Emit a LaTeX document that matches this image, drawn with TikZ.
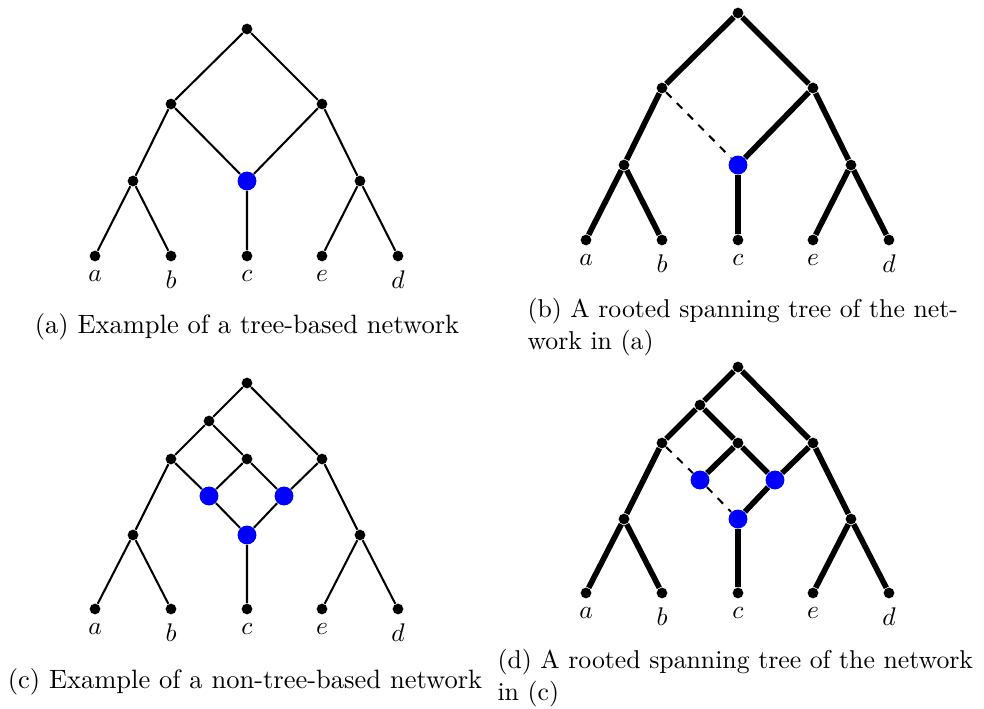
\documentclass[tikz,border=0pt]{standalone}
\usetikzlibrary{positioning}
\tikzset{
  vtx/.style={circle,fill=black,inner sep=0pt,minimum size=4.2pt},
  hyb/.style={circle,fill=blue,inner sep=0pt,minimum size=7.4pt},
  leaf/.style={vtx,label={[label distance=0pt]below:$#1$}},
  edg/.style={line width=0.8pt},
  tedg/.style={line width=2.2pt},
  cut/.style={dashed,line width=0.8pt},
  capt/.style={inner sep=0pt,align=left},
  rcapt/.style={capt,anchor=west,font=\fontsize{10.1}{12.2}\selectfont}
}

\begin{document}
\begin{tikzpicture}[x=0.01378cm,y=-0.01378cm,font=\fontsize{10.4}{12.2}\selectfont]
  \useasboundingbox (0,0) rectangle (984,709);

  % (a) tree-based network
  \node[vtx] (ar) at (247,29) {};
  \node[vtx] (au) at (171,104) {};
  \node[vtx] (av) at (322,104) {};
  \node[vtx] (aw) at (133,181) {};
  \node[hyb] (ah) at (247,181) {};
  \node[vtx] (ax) at (360,181) {};
  \node[leaf=a] (aa) at (95,256) {};
  \node[leaf=b] (ab) at (171,256) {};
  \node[leaf=c] (ac) at (247,256) {};
  \node[leaf=e] (ae) at (322,256) {};
  \node[leaf=d] (ad) at (398,256) {};
  \draw[edg] (ar)--(au) (ar)--(av);
  \draw[edg] (au)--(aw) (au)--(ah) (av)--(ah) (av)--(ax);
  \draw[edg] (aw)--(aa) (aw)--(ab) (ah)--(ac) (ax)--(ae) (ax)--(ad);
  \node[capt] (capa) at (247,327) {(a) Example of a tree-based network};

  % (b) spanning tree of (a)
  \begin{scope}[shift={(491,-16)}]
    \node[vtx] (br) at (247,29) {};
    \node[vtx] (bu) at (171,104) {};
    \node[vtx] (bv) at (322,104) {};
    \node[vtx] (bw) at (133,181) {};
    \node[hyb] (bh) at (247,181) {};
    \node[vtx] (bx) at (360,181) {};
    \node[leaf=a] (ba) at (95,256) {};
    \node[leaf=b] (bb) at (171,256) {};
    \node[leaf=c] (bc) at (247,256) {};
    \node[leaf=e] (be) at (322,256) {};
    \node[leaf=d] (bd) at (398,256) {};
  \end{scope}
  \draw[tedg] (br)--(bu) (br)--(bv);
  \draw[tedg] (bu)--(bw) (bv)--(bh) (bv)--(bx);
  \draw[cut] (bu)--(bh);
  \draw[tedg] (bw)--(ba) (bw)--(bb) (bh)--(bc) (bx)--(be) (bx)--(bd);
  \node[rcapt] (capb) at (527,327) {(b) A rooted spanning tree of the net-\\work in (a)};

  % (c) non-tree-based network
  \node[vtx] (cr) at (247,383) {};
  \node[vtx] (cu) at (209,421) {};
  \node[vtx] (cl) at (171,459) {};
  \node[vtx] (cm) at (247,459) {};
  \node[vtx] (cv) at (322,459) {};
  \node[hyb] (ch1) at (209,496) {};
  \node[hyb] (ch2) at (284,496) {};
  \node[hyb] (ch3) at (247,535) {};
  \node[vtx] (cw) at (133,535) {};
  \node[vtx] (cx) at (360,535) {};
  \node[leaf=a] (ca) at (95,609) {};
  \node[leaf=b] (cb) at (171,609) {};
  \node[leaf=c] (cc) at (247,609) {};
  \node[leaf=e] (ce) at (322,609) {};
  \node[leaf=d] (cd) at (398,609) {};
  \draw[edg] (cr)--(cu) (cr)--(cv) (cu)--(cl) (cu)--(cm);
  \draw[edg] (cl)--(cw) (cl)--(ch1) (cm)--(ch1) (cm)--(ch2) (cv)--(ch2) (cv)--(cx);
  \draw[edg] (ch1)--(ch3) (ch2)--(ch3) (ch3)--(cc);
  \draw[edg] (cw)--(ca) (cw)--(cb) (cx)--(ce) (cx)--(cd);
  \node[capt] (capc) at (245,682) {(c) Example of a non-tree-based network};

  % (d) spanning tree of (c)
  \begin{scope}[shift={(491,-16)}]
    \node[vtx] (dr) at (247,383) {};
    \node[vtx] (du) at (209,421) {};
    \node[vtx] (dl) at (171,459) {};
    \node[vtx] (dm) at (247,459) {};
    \node[vtx] (dv) at (322,459) {};
    \node[hyb] (dh1) at (209,496) {};
    \node[hyb] (dh2) at (284,496) {};
    \node[hyb] (dh3) at (247,535) {};
    \node[vtx] (dw) at (133,535) {};
    \node[vtx] (dx) at (360,535) {};
    \node[leaf=a] (da) at (95,609) {};
    \node[leaf=b] (db) at (171,609) {};
    \node[leaf=c] (dc) at (247,609) {};
    \node[leaf=e] (de) at (322,609) {};
    \node[leaf=d] (dd) at (398,609) {};
  \end{scope}
  \draw[tedg] (dr)--(du) (dr)--(dv) (du)--(dl) (du)--(dm);
  \draw[tedg] (dl)--(dw) (dm)--(dh1) (dm)--(dh2) (dv)--(dh2) (dv)--(dx);
  \draw[cut] (dl)--(dh1) (dh1)--(dh3);
  \draw[tedg] (dh2)--(dh3) (dh3)--(dc);
  \draw[tedg] (dw)--(da) (dw)--(db) (dx)--(de) (dx)--(dd);
  \node[rcapt] (capd) at (497,678) {(d) A rooted spanning tree of the network\\in (c)};
\end{tikzpicture}
\end{document}
